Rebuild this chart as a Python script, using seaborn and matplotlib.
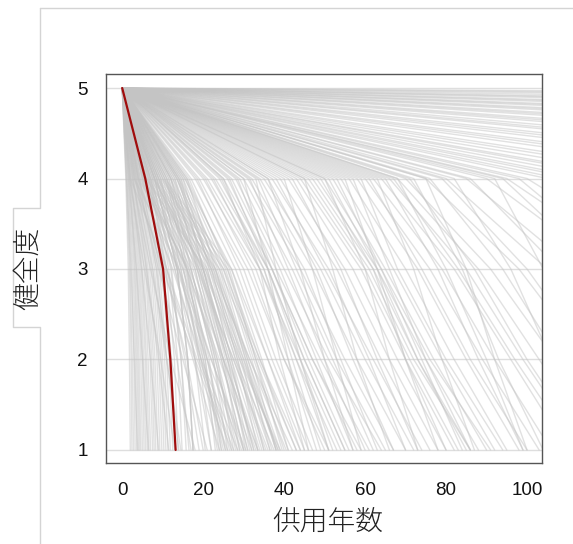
import numpy as np
import pandas as pd
import matplotlib
matplotlib.use("Agg")
import matplotlib.pyplot as plt
from matplotlib.lines import Line2D
import seaborn as sns

# Years in service at which each member reaches soundness 4, 3, 2 and 1
years_to_4 = [
    0.9, 1.0, 1.2, 1.4, 1.5, 1.7, 1.9, 2.0, 2.2, 2.4, 2.6, 2.8, 3.0, 3.2, 3.4, 3.6, 3.8, 4.0, 4.3, 4.5,
    4.8, 5.0, 5.3, 5.6, 5.9, 6.3, 6.6, 7.0, 7.4, 8.0, 8.0, 8.0, 8.5, 9.0, 9.5, 10.0, 10.5, 11.0, 11.5, 12.0,
    12.5, 13.0, 13.5, 14.0, 14.5, 15.0, 15.5, 16.0, 2.5, 3.5, 5.0, 6.5, 7.5, 9.0, 4.0, 6.0, 11.0, 12.5, 14.0, 1.8,
    3.0, 8.0,
    1.1, 1.6, 2.1, 2.7, 3.3, 4.2, 5.5, 7.0, 8.5, 10.5, 12.0, 13.5, 15.5, 9.5, 6.8, 11.5, 14.5, 3.8, 5.2, 7.8,
    4.5, 5.0, 5.5, 6.0, 6.5, 7.0, 7.5, 8.0, 8.5, 9.0, 9.5, 10.0, 10.5, 11.0, 12.0, 13.0, 14.0, 15.0, 16.0, 3.0,
    4.0, 6.0, 2.0, 7.0, 8.5, 12.0, 13.5, 10.0, 5.5, 9.0,
    17, 18, 19, 20, 21, 22, 23, 24, 25, 26, 27, 28, 29, 30, 31, 32, 34, 35, 37, 39,
    41, 43, 45, 47, 48, 50, 52, 54, 56, 58, 60, 62, 64, 66, 68, 70, 30, 40, 33, 45,
    55, 25, 36, 50, 63, 75,
    16.5, 18.5, 20.5, 22.5, 24.5, 26.5, 28.5, 31.5, 33.5, 36, 38, 42, 44, 46, 49, 51, 53, 57, 59, 61,
    65, 67, 71, 76, 79, 86, 94, 98, 112, 128, 142, 168, 200, 240, 295, 365, 455, 575, 760, 1100,
    75, 80, 85, 90, 95, 100, 108, 115, 125, 135, 148, 160, 175, 190, 210, 230, 255, 280, 310, 345,
    385, 430, 480, 540, 610, 700, 820, 980, 1200, 1500, 105, 82, 92, 72, 68, 120, 2000, 2600, 3500,
]
years_to_3 = [
    1.5, 1.8, 2.0, 2.4, 2.7, 3.0, 3.2, 3.5, 3.8, 4.1, 4.4, 4.7, 5.0, 5.4, 5.8, 6.1, 6.4, 6.8, 7.2, 7.6,
    8.0, 8.4, 8.8, 9.2, 9.7, 10.2, 10.8, 11.5, 12.2, 13.6, 13.6, 13.6, 14.5, 15.2, 15.8, 16.5, 17.0, 18.0, 18.5, 19.5,
    20.0, 21.0, 22.0, 22.5, 23.5, 24.5, 25.5, 26.5, 7.0, 9.0, 11.0, 13.0, 15.0, 17.5, 8.5, 12.0, 20.5, 23.0, 25.0, 5.5,
    10.0, 18.5,
    2.2, 3.5, 4.8, 6.0, 7.5, 9.5, 10.5, 14.0, 16.0, 19.0, 21.5, 24.0, 27.0, 14.5, 11.0, 16.0, 20.0, 12.5, 16.0, 20.0,
    15.0, 16.0, 17.0, 18.0, 19.0, 20.0, 21.0, 22.0, 23.0, 24.0, 25.0, 26.0, 27.0, 15.5, 17.0, 18.5, 20.0, 21.5, 23.0, 14.0,
    16.5, 20.5, 11.0, 13.0, 14.0, 19.0, 22.0, 22.5, 13.5, 19.5,
    28, 30, 31, 33, 34, 35, 36, 36, 37, 37, 38, 39, 40, 42, 44, 45, 47, 49, 51, 53,
    55, 57, 60, 62, 63, 64, 65, 67, 70, 73, 76, 79, 82, 85, 88, 91, 36, 47, 38, 52,
    63, 34, 44, 60, 72, 85,
    26, 29, 32, 34, 35, 36, 37, 41, 43, 48, 50, 54, 59, 61, 62, 63, 64, 66, 68, 74,
    78, 83, 87, 94, 100, 108, 118, 125, 150, 178, 198, 235, 280, 335, 410, 505, 635, 800, 1060, 1530,
    98, 105, 112, 120, 128, 136, 148, 160, 175, 190, 205, 225, 245, 265, 290, 320, 355, 390, 430, 480,
    535, 600, 670, 750, 850, 975, 1140, 1360, 1670, 2090, 118, 96, 104, 84, 80, 140, 2800, 3600, 4900,
]
years_to_2 = [
    1.8, 2.2, 2.5, 2.9, 3.3, 3.6, 3.9, 4.2, 4.6, 5.0, 5.3, 5.7, 6.0, 6.4, 6.9, 7.3, 7.7, 8.1, 8.6, 9.1,
    9.6, 10.0, 10.5, 11.0, 11.6, 12.2, 12.9, 13.7, 14.6, 16.2, 16.2, 16.2, 18.0, 19.0, 20.5, 21.0, 22.5, 23.0, 24.5, 25.0,
    26.5, 27.0, 28.5, 29.0, 30.5, 31.0, 32.5, 33.0, 12.0, 15.0, 17.5, 19.0, 22.0, 25.0, 11.0, 14.5, 28.0, 31.5, 34.0, 9.5,
    18.0, 27.5,
    3.0, 5.0, 7.0, 9.0, 11.0, 13.5, 16.0, 20.0, 23.5, 26.0, 30.0, 33.5, 36.0, 19.5, 15.5, 20.0, 25.5, 19.5, 24.0, 29.0,
    20.5, 21.5, 22.5, 23.5, 25.0, 26.0, 27.0, 28.5, 29.5, 30.5, 32.0, 33.0, 34.5, 21.0, 23.0, 24.5, 26.5, 28.0, 30.0, 22.0,
    25.0, 29.5, 18.5, 18.0, 19.5, 27.5, 31.5, 31.0, 21.0, 26.0,
    36, 38, 40, 41, 43, 42, 45, 44, 47, 46, 49, 48, 51, 52, 55, 54, 58, 60, 61, 64,
    66, 68, 71, 73, 75, 74, 77, 79, 82, 85, 89, 92, 96, 99, 103, 107, 41, 53, 44, 58,
    70, 39, 50, 66, 79, 92,
    34, 37, 40, 44, 43, 45, 47, 50, 53, 57, 62, 63, 70, 72, 70, 73, 76, 75, 80, 86,
    88, 97, 100, 108, 116, 124, 136, 145, 178, 210, 235, 278, 330, 400, 485, 600, 750, 940, 1250, 1800,
    115, 122, 130, 140, 150, 160, 175, 190, 205, 225, 245, 265, 290, 315, 345, 380, 420, 460, 510, 565,
    630, 705, 790, 885, 1000, 1150, 1345, 1600, 1970, 2460, 128, 106, 113, 93, 90, 155, 3300, 4300, 5800,
]
years_to_1 = [
    2.0, 2.4, 2.8, 3.2, 3.6, 4.0, 4.3, 4.6, 5.0, 5.4, 5.8, 6.2, 6.6, 7.0, 7.5, 7.9, 8.3, 8.8, 9.3, 9.8,
    10.3, 10.8, 11.3, 11.9, 12.5, 13.1, 13.8, 14.8, 15.8, 17.5, 17.5, 17.5, 20.5, 22.0, 24.0, 25.5, 27.0, 28.0, 30.0, 31.0,
    32.5, 34.0, 35.0, 36.5, 38.0, 39.0, 40.0, 41.0, 18.0, 21.0, 24.0, 27.5, 30.5, 33.0, 14.0, 16.5, 37.5, 42.0, 44.0, 13.0,
    26.0, 35.5,
    3.8, 6.5, 9.0, 11.5, 14.5, 17.0, 20.0, 25.0, 29.0, 33.5, 38.5, 43.0, 45.0, 23.5, 19.0, 24.5, 31.0, 28.5, 32.0, 39.0,
    23.0, 24.5, 26.0, 27.5, 29.0, 30.5, 32.0, 33.5, 35.0, 36.5, 38.0, 39.5, 41.0, 26.5, 28.5, 30.0, 32.5, 34.5, 37.0, 30.0,
    33.5, 38.5, 27.0, 22.0, 25.5, 36.0, 40.5, 38.0, 29.5, 31.5,
    44, 47, 50, 48, 53, 49, 55, 52, 58, 56, 61, 57, 64, 62, 67, 63, 70, 72, 70, 76,
    78, 80, 83, 85, 88, 84, 90, 92, 95, 98, 103, 106, 110, 114, 118, 123, 46, 59, 51, 66,
    78, 45, 57, 73, 87, 100,
    43, 46, 51, 54, 51, 55, 59, 60, 65, 67, 74, 73, 82, 86, 80, 86, 91, 86, 94, 100,
    99, 112, 115, 122, 134, 142, 155, 166, 205, 240, 270, 320, 380, 455, 555, 690, 860, 1080, 1430, 2070,
    132, 140, 150, 160, 172, 185, 200, 218, 235, 258, 280, 305, 335, 360, 395, 435, 480, 525, 585, 650,
    725, 810, 905, 1015, 1150, 1320, 1545, 1840, 2260, 2820, 138, 116, 124, 104, 99, 170, 3800, 5000, 6700,
]

# Benchmark (average) deterioration curve
bench_years = [0.0, 5.7, 10.1, 11.9, 13.2]
bench_health = [5, 4, 3, 2, 1]

health_levels = [5, 4, 3, 2, 1]
x_ticks = [0, 20, 40, 60, 80, 100]

rows = []
for i, (a, b, c, d) in enumerate(zip(years_to_4, years_to_3, years_to_2, years_to_1)):
    for yr, h in zip([0.0, a, b, c, d], health_levels):
        rows.append({"member": i, "year": yr, "health": h})
members = pd.DataFrame(rows)
bench = pd.DataFrame({"year": bench_years, "health": bench_health})

sns.set_theme(style="white")
plt.rcParams["font.family"] = ["Liberation Sans", "Noto Sans CJK JP", "DejaVu Sans"]

fig = plt.figure(figsize=(5.73, 5.44), dpi=100)
ax = fig.add_axes([106 / 573, 1 - 463 / 544, 436 / 573, 389 / 544])

for h in health_levels:
    ax.axhline(h, color="#dedede", lw=1.0, zorder=0.5)

sns.lineplot(data=members, x="year", y="health", units="member", estimator=None,
             sort=False, color="#c4c4c4", lw=1.0, alpha=0.5, ax=ax, legend=False)
sns.lineplot(data=bench, x="year", y="health", sort=False, color="#a00d0d",
             lw=1.6, ax=ax, legend=False, zorder=5)

ax.set_xlim(-4, 103.7)
ax.set_ylim(0.856, 5.155)
ax.set_xticks(x_ticks)
ax.set_yticks(health_levels)
ax.set_xticklabels([str(t) for t in x_ticks])
ax.set_yticklabels([str(h) for h in health_levels])
ax.tick_params(axis="x", direction="in", length=3, width=0.8, color="#444444",
               labelsize=13.5, pad=14, labelcolor="#111111")
ax.tick_params(axis="y", length=0, labelsize=13.5, pad=13, labelcolor="#111111")
ax.set_xlabel("")
ax.set_ylabel("")
for sp in ax.spines.values():
    sp.set_visible(True)
    sp.set_color("#555555")
    sp.set_linewidth(1.0)

# Outer frame with the tab holding the vertical axis title
W, H = 573, 544
fx = lambda px: px / W
fy = lambda py: 1 - py / H
fig.add_artist(Line2D([fx(40), fx(573)], [fy(8), fy(8)], color="#d4d4d4", lw=1.0))
fig.add_artist(Line2D([fx(40), fx(40), fx(13), fx(13), fx(40), fx(40)],
                      [fy(8), fy(208), fy(208), fy(327), fy(327), fy(544)],
                      color="#d4d4d4", lw=1.0))

cjk = ["Noto Sans CJK JP", "DejaVu Sans"]
fig.text(fx(328), fy(522), "供用年数", family=cjk, fontsize=20, weight="light",
         ha="center", va="center", color="#222222")
fig.text(fx(28), fy(268), "健全度", family=cjk, fontsize=20, weight="light",
         ha="center", va="center", rotation=90, color="#222222")

fig.savefig("out.png", dpi=100)
